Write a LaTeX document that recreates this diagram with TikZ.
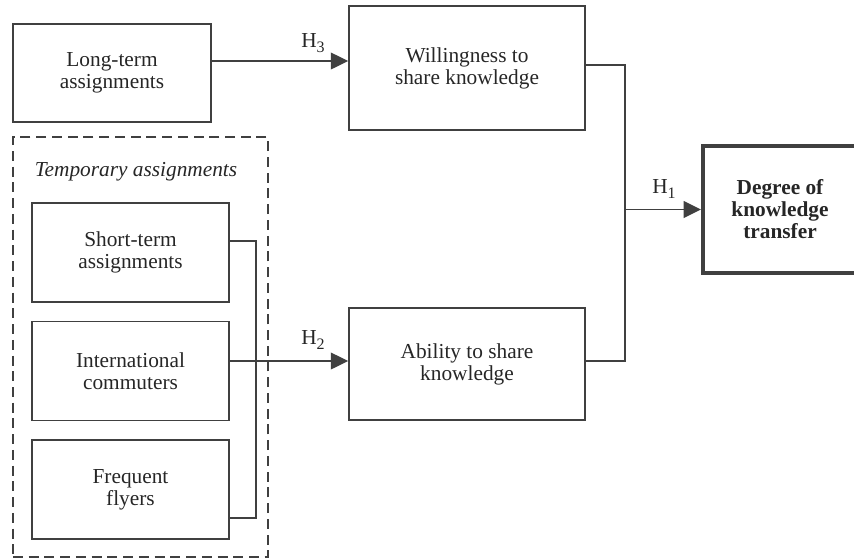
\documentclass[tikz,border=0pt]{standalone}
\usepackage{fontspec}
\setmainfont{Liberation Serif}
\usetikzlibrary{arrows.meta}

\newcommand{\hsub}[1]{H\raisebox{-0.5ex}{\fontsize{12}{12}\selectfont #1}}

\begin{document}
\begin{tikzpicture}[x=0.75pt,y=-0.75pt]

\tikzset{
    box/.style={draw=black!75, line width=1.2pt, align=center, text=black!85,
        font=\fontsize{16}{16.5}\selectfont, inner sep=0pt},
    line/.style={draw=black!75, line width=1.2pt},
    arr/.style={line, -{Triangle[length=13pt,width=12.5pt]}},
    lbl/.style={text=black!85, font=\fontsize{16}{16.5}\selectfont, inner sep=0pt}
}
\useasboundingbox (0,0) rectangle (854,558);

\node[box, minimum width=148.5pt, minimum height=73.5pt] (lt) at (112,73) {Long-term\\assignments};
\node[box, minimum width=177pt, minimum height=93pt] (will) at (467,68) {Willingness to\\share knowledge};
\node[box, minimum width=177pt, minimum height=84pt] (abil) at (467,364) {Ability to share\\knowledge};
\node[box, line width=3pt, minimum width=115.5pt, minimum height=95.25pt] (deg) at (780,209.5) {\bfseries Degree of\\\bfseries knowledge\\\bfseries transfer};

% temporary assignments group
\node[box, dash pattern=on 7.5pt off 4.3pt, minimum width=191.25pt, minimum height=315pt] (temp) at (140.5,347) {};
\node[lbl] (templbl) at (136,172) {\itshape Temporary assignments};
\node[box, minimum width=147.75pt, minimum height=74.25pt] (st) at (130.5,252.5) {Short-term\\assignments};
\node[box, minimum width=147.75pt, minimum height=74.25pt] (ic) at (130.5,371) {International\\commuters};
\node[box, minimum width=147.75pt, minimum height=74.25pt] (fr) at (130.5,489.5) {Frequent\\flyers};

\draw[arr] ([yshift=9pt]lt.east) -- ([yshift=9pt]lt.east -| will.west);
\draw[line] ([yshift=8.6pt]st.east) -- ++(26,0) |- ([yshift=-21.4pt]fr.east);
\draw[arr] ([yshift=7.5pt]ic.east) -- ([yshift=7.5pt]ic.east -| abil.west);
\draw[line] ([yshift=2.25pt]will.east) -- ++(39,0) coordinate (jn) |- ([yshift=2.25pt]abil.east);
\draw[arr] (jn |- deg.west) -- (deg.west);

\node[lbl] (h3) at (313,43) {\hsub{3}};
\node[lbl] (h2) at (313,340) {\hsub{2}};
\node[lbl] (h1) at (664,189) {\hsub{1}};
\end{tikzpicture}
\end{document}
